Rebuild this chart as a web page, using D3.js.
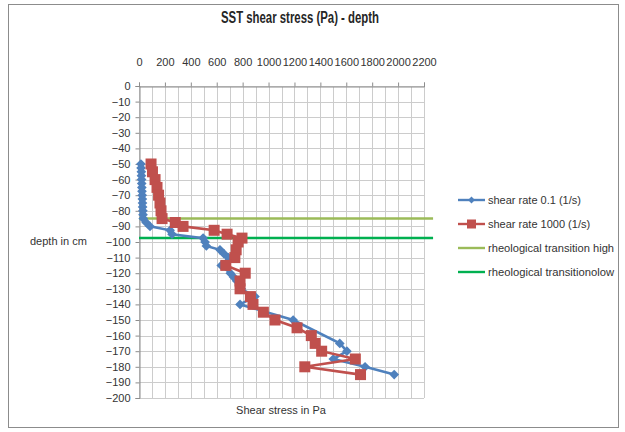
<!DOCTYPE html>
<html><head><meta charset="utf-8">
<script src="https://cdn.jsdelivr.net/npm/d3@7"></script>
<style>
html,body{margin:0;padding:0;background:#fff;}
svg text{font-family:"Liberation Sans","Open Sans",sans-serif;}
</style></head>
<body>
<svg id="chart" width="625" height="432"></svg>
<script>
// ---- data ----
const titleText = "SST shear stress (Pa) - depth";
const xTicks = [0,200,400,600,800,1000,1200,1400,1600,1800,2000,2200];
const yTicks = [0,-10,-20,-30,-40,-50,-60,-70,-80,-90,-100,-110,-120,-130,-140,-150,-160,-170,-180,-190,-200];

const lowRateDepth  = [-50,-52.5,-55,-57.5,-60,-62.5,-65,-67.5,-70,-72.5,-75,-77.5,-80,-82.5,-85,-87.5,-90,-92.5,-95,-97.5,-100,-102.5,-105,-107.5,-110,-115,-120,-122.5,-125,-130,-135,-140,-150,-165,-170,-175,-180,-185];
const lowRateStress = [15,16,18,19,20,21,22,23,25,26,27,28,30,31,33,55,85,240,255,495,510,520,625,655,690,635,705,730,755,790,895,780,1190,1550,1605,1500,1745,1970];

const highRateDepth  = [-50,-55,-60,-65,-70,-75,-80,-85,-87.5,-90,-92.5,-95,-97.5,-100,-105,-110,-115,-120,-125,-130,-135,-140,-145,-150,-155,-160,-165,-170,-175,-180,-185];
const highRateStress = [93,104,124,139,151,162,170,178,280,340,580,680,795,765,750,740,670,820,780,780,860,880,960,1050,1220,1330,1360,1410,1670,1280,1710];

const transitionHighDepth = -85;
const transitionLowDepth = -97.5;
const transitionStressSpan = [0, 2270];

const seriesNames = ["shear rate 0.1 (1/s)","shear rate 1000 (1/s)","rheological transition high","rheological transitionolow"];
const seriesColors = ["#4F81BD","#C0504D","#9BBB59","#00B050"];

// ---- layout ----
const svg = d3.select("#chart");
const L = 139, R = 424, T = 86, B = 398;
const x = d3.scaleLinear().domain([0,2200]).range([L,R]);
const y = d3.scaleLinear().domain([0,-200]).range([T,B]);

// outer border
svg.append("rect").attr("x",8.5).attr("y",4.5).attr("width",610).attr("height",423)
  .attr("fill","#fff").attr("stroke","#8c8c8c").attr("stroke-width",1);

// title
svg.append("text").attr("x",300).attr("y",23).attr("text-anchor","middle")
  .attr("font-size",16).attr("font-weight","bold").attr("fill","#262626")
  .attr("textLength",158).attr("lengthAdjust","spacingAndGlyphs").text(titleText);

// gridlines
const grid = svg.append("g").attr("stroke","#cccccc").attr("stroke-width",1);
d3.range(0,2201,100).forEach(v=>{
  grid.append("line").attr("x1",Math.round(x(v))+0.5).attr("x2",Math.round(x(v))+0.5).attr("y1",T).attr("y2",B);
});
yTicks.forEach(v=>{
  grid.append("line").attr("x1",L).attr("x2",R).attr("y1",Math.round(y(v))+0.5).attr("y2",Math.round(y(v))+0.5);
});

// axes
const xAxis = d3.axisTop(x).tickValues(xTicks).tickSize(4).tickFormat(d3.format("d"));
const gx = svg.append("g").attr("transform",`translate(0,${T+0.5})`).call(xAxis);
gx.select(".domain").attr("stroke","#8c8c8c");
gx.selectAll(".tick line").attr("stroke","#8c8c8c");
gx.selectAll("text").attr("font-size",11).attr("fill","#333").attr("font-family","Liberation Sans").attr("dy","-14");

const yAxis = d3.axisLeft(y).tickValues(yTicks).tickSize(4).tickFormat(d3.format("d"));
const gy = svg.append("g").attr("transform",`translate(${L+0.5},0)`).call(yAxis);
gy.select(".domain").attr("stroke","#8c8c8c");
gy.selectAll(".tick line").attr("stroke","#8c8c8c");
gy.selectAll("text").attr("font-size",11).attr("fill","#333").attr("font-family","Liberation Sans").attr("dx","-2");

// axis titles
svg.append("text").attr("x",30).attr("y",245).attr("font-size",11).attr("fill","#333").text("depth in cm");
svg.append("text").attr("x",281).attr("y",414).attr("text-anchor","middle").attr("font-size",11).attr("fill","#333").text("Shear stress in Pa");

// transition lines
[[transitionHighDepth,seriesColors[2]],[transitionLowDepth,seriesColors[3]]].forEach(([d,c])=>{
  svg.append("line").attr("x1",x(transitionStressSpan[0])).attr("x2",x(transitionStressSpan[1]))
    .attr("y1",y(d)).attr("y2",y(d)).attr("stroke",c).attr("stroke-width",2.5);
});

// series
const line = d3.line().x(d=>x(d[0])).y(d=>y(d[1]));
const lowData = lowRateStress.map((s,i)=>[s,lowRateDepth[i]]);
const highData = highRateStress.map((s,i)=>[s,highRateDepth[i]]);

svg.append("path").datum(lowData).attr("d",line).attr("fill","none").attr("stroke",seriesColors[0]).attr("stroke-width",2.6);
svg.append("g").selectAll("path").data(lowData).join("path")
  .attr("d",d3.symbol(d3.symbolDiamond2,60)())
  .attr("transform",d=>`translate(${x(d[0])},${y(d[1])})`).attr("fill",seriesColors[0]);

svg.append("path").datum(highData).attr("d",line).attr("fill","none").attr("stroke",seriesColors[1]).attr("stroke-width",2.6);
svg.append("g").selectAll("rect").data(highData).join("rect")
  .attr("x",d=>x(d[0])-5.5).attr("y",d=>y(d[1])-5.5).attr("width",11).attr("height",11).attr("fill",seriesColors[1]);

// legend
const legY = [200,224,248,272];
const lg = svg.append("g");
seriesNames.forEach((n,i)=>{
  const yy = legY[i];
  lg.append("line").attr("x1",458).attr("x2",485).attr("y1",yy).attr("y2",yy).attr("stroke",seriesColors[i]).attr("stroke-width",2.4);
  if(i===0) lg.append("path").attr("d",d3.symbol(d3.symbolDiamond2,30)()).attr("transform",`translate(471.5,${yy})`).attr("fill",seriesColors[0]);
  if(i===1) lg.append("rect").attr("x",467).attr("y",yy-4.5).attr("width",9).attr("height",9).attr("fill",seriesColors[1]);
  lg.append("text").attr("x",488).attr("y",yy+4).attr("font-size",11).attr("fill","#333")
    .attr("textLength",n.length>22?126:null).attr("lengthAdjust","spacingAndGlyphs").text(n);
});
</script>
</body></html>
